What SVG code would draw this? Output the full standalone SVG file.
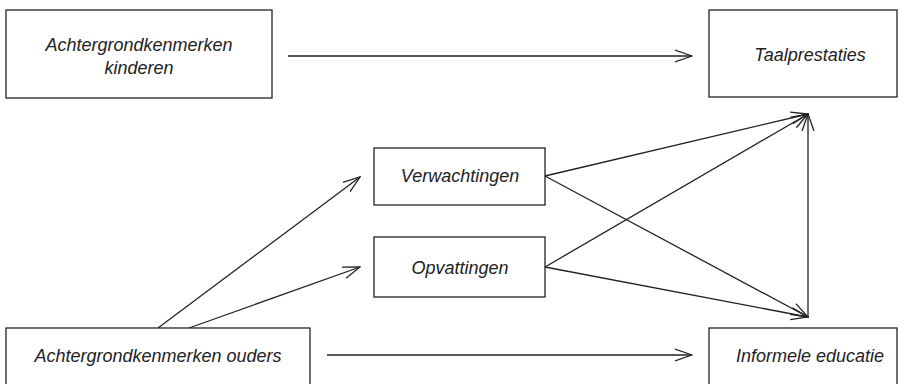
<svg xmlns="http://www.w3.org/2000/svg" width="904" height="384" viewBox="0 0 904 384">
<defs>
<style>
.box{fill:#fff;stroke:#222;stroke-width:1.3}
.t{font-family:"Liberation Sans",Arial,sans-serif;font-style:italic;font-size:18px;fill:#222;text-anchor:middle}
.c{stroke:#222;stroke-width:1.3;fill:none;marker-end:url(#a)}
</style>
<marker id="a" viewBox="0 0 18 14" refX="17" refY="7" markerWidth="18" markerHeight="14" markerUnits="userSpaceOnUse" orient="auto">
<path d="M0,1 L17,7 L0,13" fill="none" stroke="#222" stroke-width="1.3"/>
</marker>
</defs>
<rect width="904" height="384" fill="#fff"/>
<g id="connectors">
<line class="c" x1="288" y1="56" x2="692" y2="56"/>
<line class="c" x1="327" y1="355" x2="692" y2="355"/>
<line class="c" x1="158" y1="328" x2="360" y2="177"/>
<line class="c" x1="189" y1="328" x2="360" y2="267"/>
<line class="c" x1="545" y1="176" x2="808" y2="114"/>
<line class="c" x1="545" y1="176" x2="808" y2="317"/>
<line class="c" x1="545" y1="267" x2="808" y2="114"/>
<line class="c" x1="545" y1="267" x2="808" y2="317"/>
<line class="c" x1="808" y1="317" x2="808" y2="114"/>
</g>
<g id="n1"><rect class="box" x="6" y="10" width="266" height="88"/>
<text class="t" x="139" y="51">Achtergrondkenmerken</text>
<text class="t" x="139" y="74">kinderen</text></g>
<g id="n2"><rect class="box" x="709" y="10" width="188" height="87"/>
<text class="t" x="810" y="61">Taalprestaties</text></g>
<g id="n3"><rect class="box" x="374" y="148" width="171" height="57"/>
<text class="t" x="460" y="182">Verwachtingen</text></g>
<g id="n4"><rect class="box" x="374" y="237" width="171" height="60"/>
<text class="t" x="460" y="274">Opvattingen</text></g>
<g id="n5"><rect class="box" x="6" y="328" width="304" height="64"/>
<text class="t" x="158" y="362">Achtergrondkenmerken ouders</text></g>
<g id="n6"><rect class="box" x="709" y="328" width="188" height="64"/>
<text class="t" x="810" y="362">Informele educatie</text></g>
</svg>
